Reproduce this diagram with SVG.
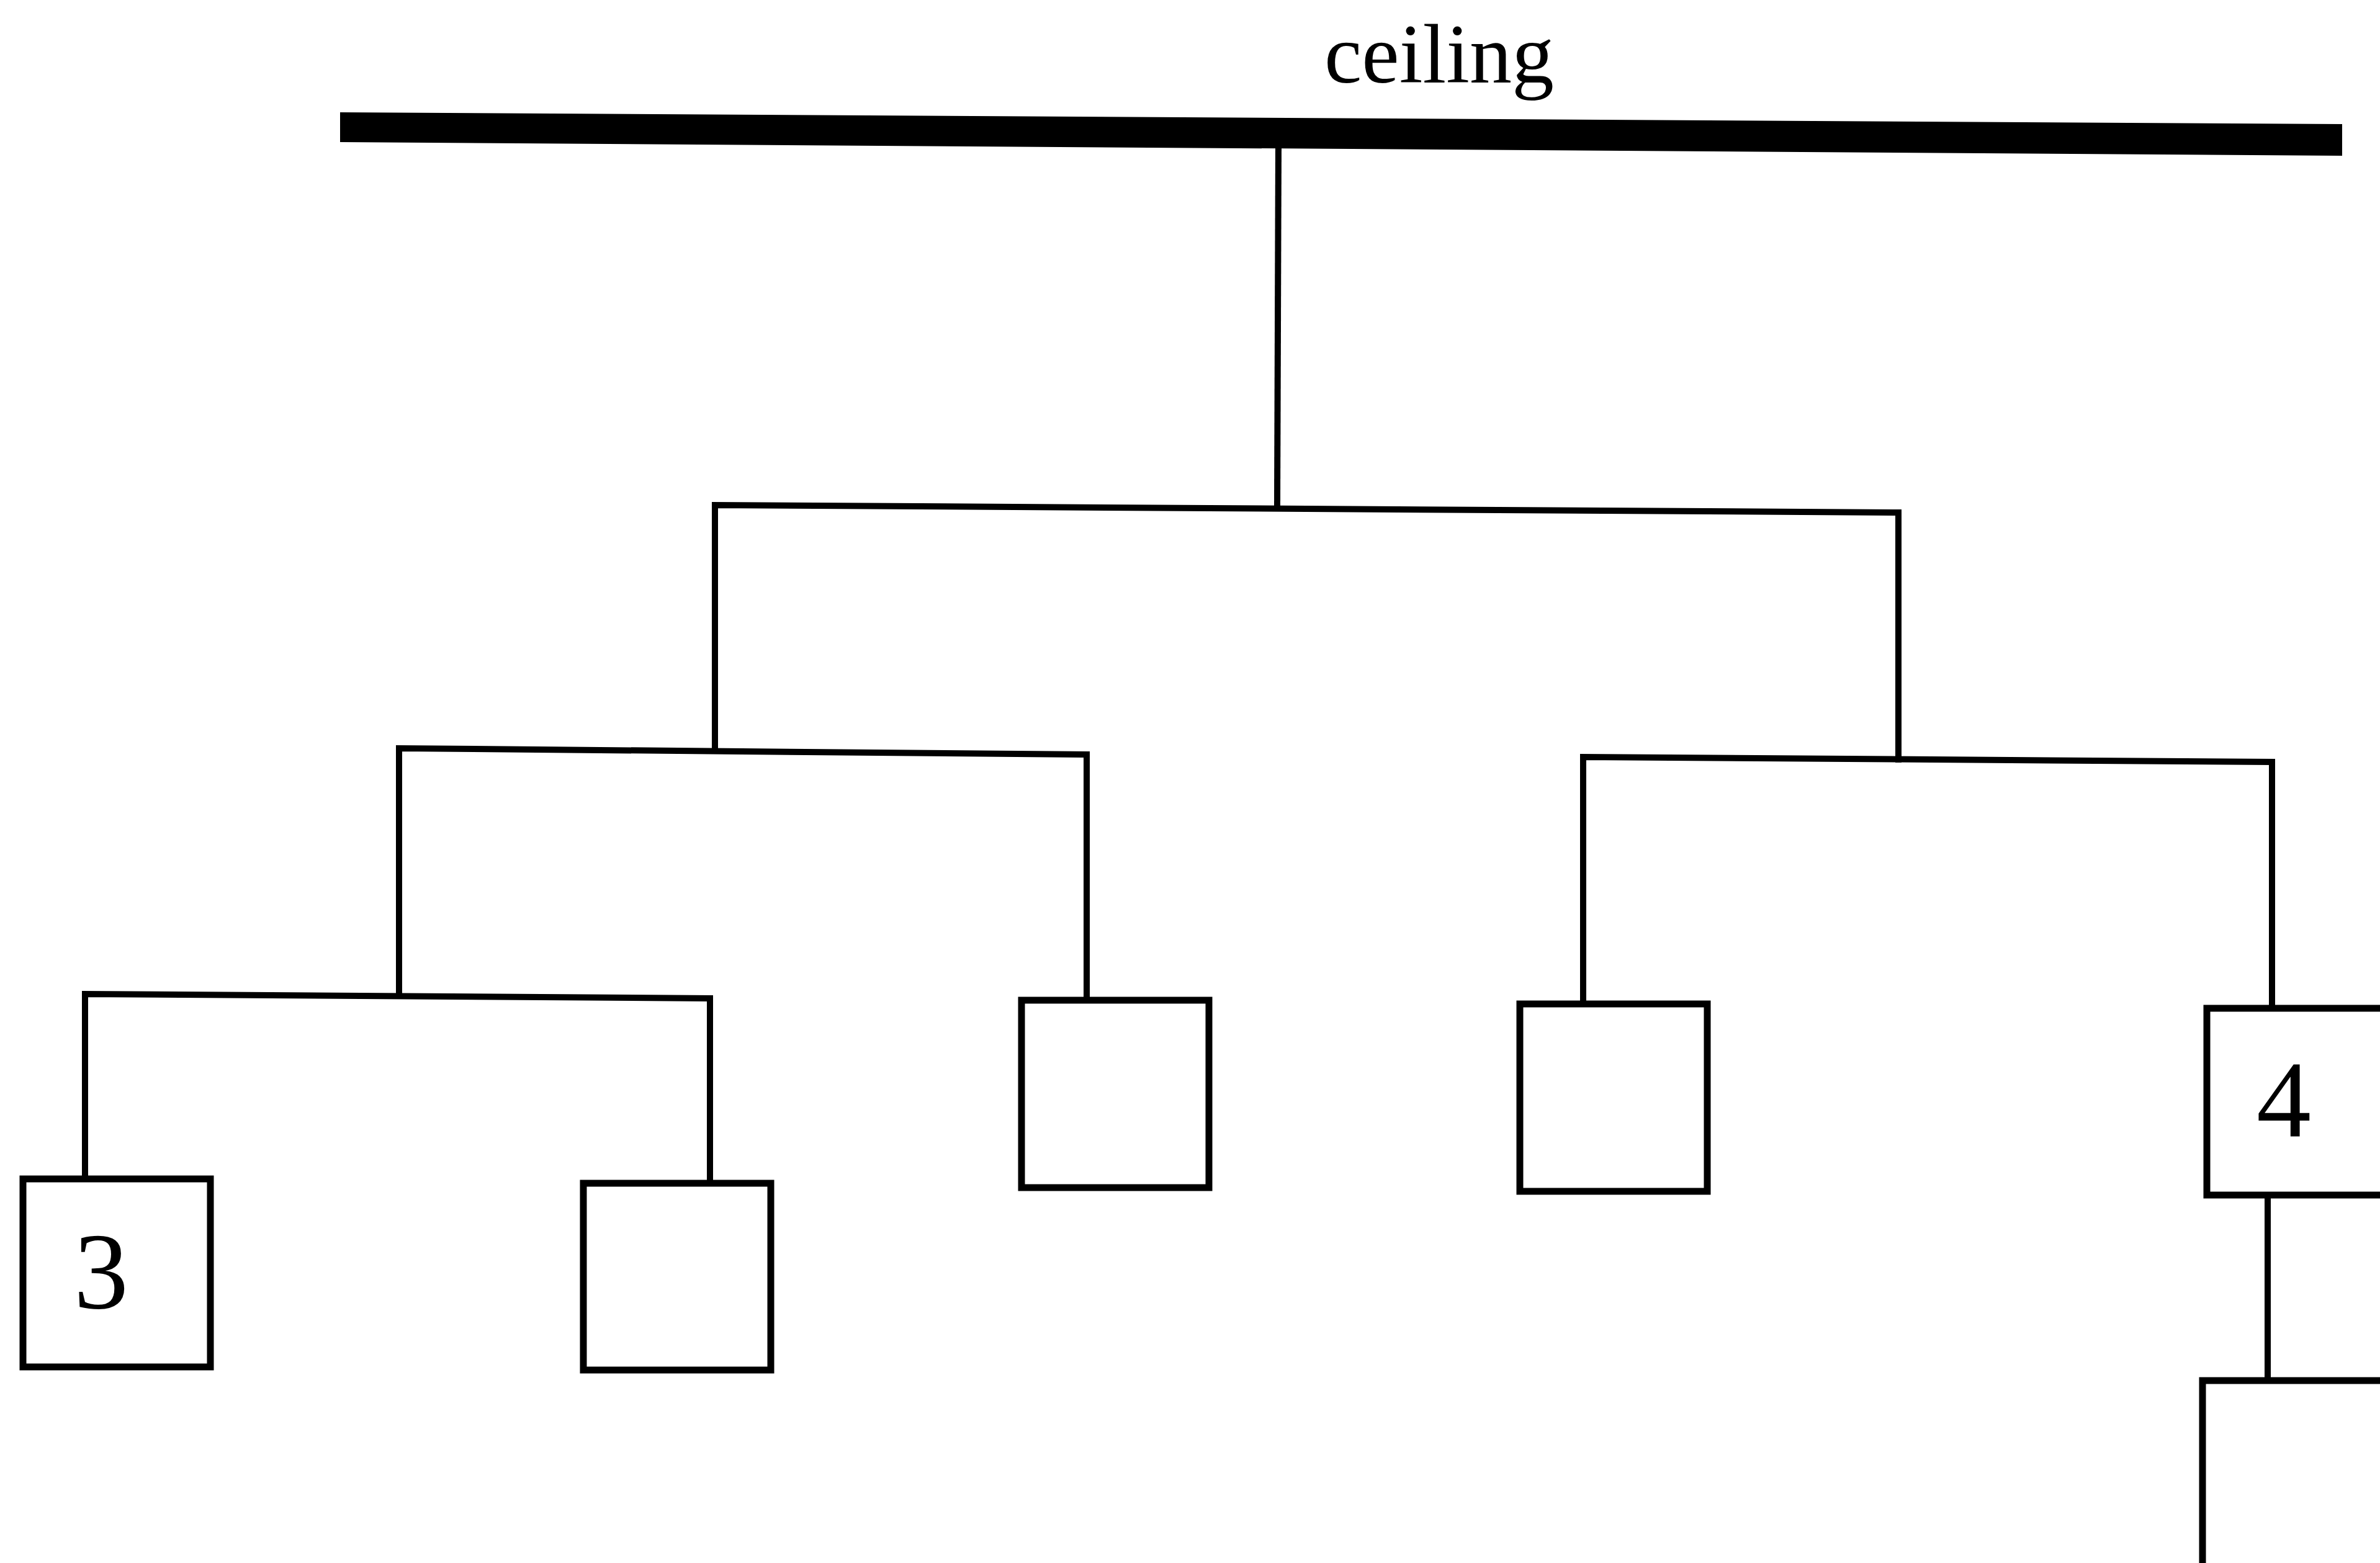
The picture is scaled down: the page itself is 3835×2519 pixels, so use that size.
<svg xmlns="http://www.w3.org/2000/svg" width="3835" height="2519" viewBox="0 0 3835 2519">
<style>
.ln{fill:none;stroke:#000;stroke-width:10;stroke-linecap:square;stroke-linejoin:miter}
.bx{fill:#fff;stroke:#000;stroke-width:11}
.lbl{font-family:"Liberation Serif","Times New Roman",serif;fill:#000}
</style>
<rect width="3835" height="2519" fill="#fff"/>
<g id="ceiling">
<polygon points="548,181 3774,200 3774,251 548,229" fill="#000"/>
<text class="lbl" x="2319" y="133" font-size="136" text-anchor="middle">ceiling</text>
</g>
<g id="connectors" class="ln">
<polyline points="2060,235 2058,819"/>
<polyline points="1152,1210 1152,814 3059,826 3059,1224"/>
<polyline points="643,1602 643,1206 1751,1216 1751,1612"/>
<polyline points="2551,1617 2551,1220 3661,1228 3661,1624"/>
<polyline points="137,1898 137,1602 1144,1609 1144,1906"/>
<polyline points="3654,1928 3654,2225"/>
</g>
<g id="node-3">
<rect class="bx" x="37" y="1900" width="302" height="303"/>
<text class="lbl" x="163" y="2108" font-size="176" text-anchor="middle">3</text>
</g>
<g id="node-a">
<rect class="bx" x="940" y="1907" width="302" height="301"/>
</g>
<g id="node-b">
<rect class="bx" x="1646" y="1612" width="302" height="302"/>
</g>
<g id="node-c">
<rect class="bx" x="2449" y="1618" width="302" height="302"/>
</g>
<g id="node-4">
<rect class="bx" x="3556" y="1625" width="400" height="301"/>
<text class="lbl" x="3680" y="1831" font-size="176" text-anchor="middle">4</text>
</g>
<g id="node-d">
<rect class="bx" x="3549" y="2225" width="400" height="400"/>
</g>
</svg>
